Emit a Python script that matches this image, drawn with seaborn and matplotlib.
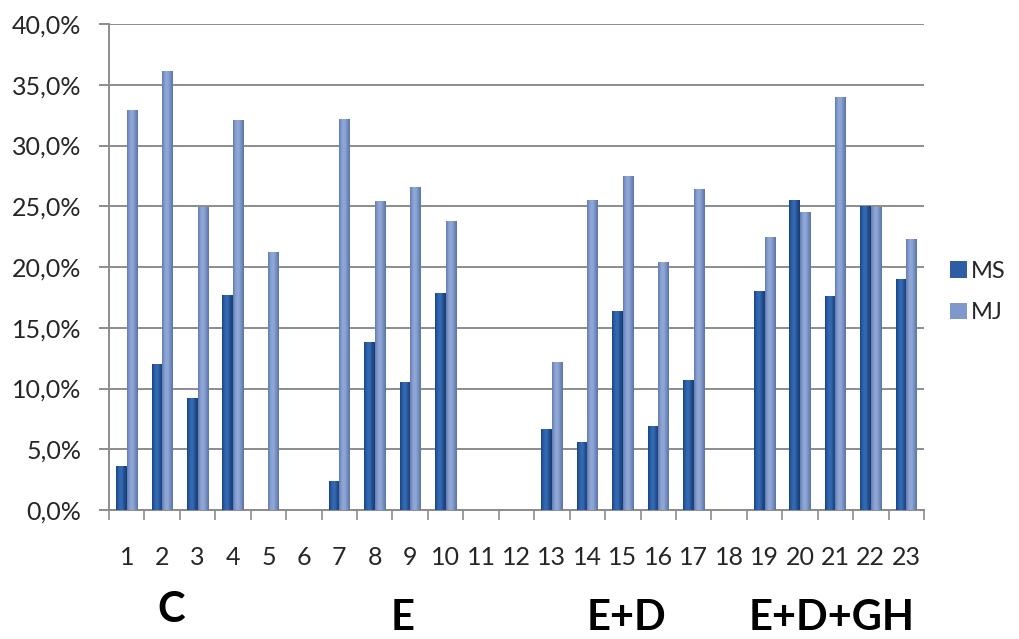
import numpy as np
import pandas as pd
import matplotlib
matplotlib.use("Agg")
import matplotlib.pyplot as plt
import seaborn as sns
from matplotlib.ticker import FuncFormatter, FixedLocator, NullFormatter
from matplotlib.colors import LinearSegmentedColormap
from matplotlib.patches import Patch
import matplotlib.transforms as mtransforms

nan = np.nan
categories = [str(i) for i in range(1, 24)]
ms_values = [3.6, 12.0, 9.2, 17.7, nan, nan, 2.4, 13.8, 10.5, 17.9, nan, nan,
             6.7, 5.6, 16.4, 6.9, 10.7, nan, 18.0, 25.5, 17.6, 25.0, 19.0]
mj_values = [32.9, 36.1, 24.9, 32.1, 21.2, nan, 32.2, 25.4, 26.6, 23.8, nan, nan,
             12.2, 25.5, 27.5, 20.4, 26.4, nan, 22.5, 24.5, 34.0, 24.9, 22.3]
series = ["MS", "MJ"]
group_labels = ["C", "E", "E+D", "E+D+GH"]
group_centers = [1.25, 7.8, 14.1, 19.9]   # in category units
yticks = [0, 5, 10, 15, 20, 25, 30, 35, 40]

df = pd.DataFrame({
    "cat": categories * 2,
    "series": [series[0]] * len(categories) + [series[1]] * len(categories),
    "value": ms_values + mj_values,
})

sns.set_theme(style="white")
plt.rcParams["font.family"] = ["Lato", "DejaVu Sans"]

W, H = 1020, 639
fig = plt.figure(figsize=(W / 100, H / 100), dpi=100)
ax = fig.add_axes([109 / W, 1 - 510 / H, (924 - 109) / W, (510 - 24) / H])

colors = {"MS": "#2D5EA5", "MJ": "#7F98CB"}
sns.barplot(data=df, x="cat", y="value", hue="series", order=categories,
            hue_order=series, palette=colors, width=0.6, gap=0, ax=ax,
            saturation=1, errorbar=None, linewidth=0, zorder=3, legend=False)

# cylinder-like gradient fill on each bar
cmaps = {
    "MS": LinearSegmentedColormap.from_list("ms", ["#1A427E", "#2C62AD", "#376DB6", "#22508D", "#183C74"]),
    "MJ": LinearSegmentedColormap.from_list("mj", ["#5F78AE", "#8AA2D2", "#93AAD8", "#7590C3", "#5C72A4"]),
}
grad = np.linspace(0, 1, 64).reshape(1, -1)
n = len(categories)
for p in list(ax.patches):
    h = p.get_height()
    if not (h == h) or h <= 0:
        continue
    fc = matplotlib.colors.to_hex(p.get_facecolor())
    key = "MS" if fc.lower() == colors["MS"].lower() else "MJ"
    x0, w = p.get_x(), p.get_width()
    im = ax.imshow(grad, extent=[x0, x0 + w, 0, h], aspect="auto",
                   cmap=cmaps[key], zorder=3.5, interpolation="bicubic")
    im.set_clip_path(p)

ax.set_xlim(-0.5, n - 0.5)
ax.set_ylim(0, 40)

# grid and spines
ax.yaxis.set_major_locator(FixedLocator(yticks))
ax.yaxis.grid(True, color="#8C8C8C", linewidth=1.4, zorder=0)
ax.set_axisbelow(True)
for s in ["top", "right"]:
    ax.spines[s].set_visible(False)
for s in ["left", "bottom"]:
    ax.spines[s].set_color("#8C8C8C")
    ax.spines[s].set_linewidth(1.4)

ax.yaxis.set_major_formatter(FuncFormatter(lambda v, _: f"{v:.1f}%".replace(".", ",")))
ax.tick_params(axis="y", which="major", length=7, width=1.4, color="#8C8C8C",
               pad=13, labelsize=18, labelcolor="#262626", left=True)

# x: labels at centers, tick marks at category boundaries
ax.set_xticks(range(n))
ax.set_xticklabels(categories)
ax.set_xticks(np.arange(-0.5, n, 1.0), minor=True)
ax.xaxis.set_minor_formatter(NullFormatter())
ax.tick_params(axis="x", which="major", length=0, pad=26, labelsize=18, labelcolor="#262626")
ax.tick_params(axis="x", which="minor", length=7, width=1.2, color="#8C8C8C", bottom=True)
ax.set_xlabel("")
ax.set_ylabel("")

# group labels below the axis
trans = mtransforms.blended_transform_factory(ax.transData, fig.transFigure)
for lab, xc in zip(group_labels, group_centers):
    yy = 1 - (610 if lab == "C" else 618) / H
    ax.text(xc, yy, lab, transform=trans, ha="center", va="center",
            fontsize=30, fontweight="bold", color="black")

# legend
handles = [Patch(facecolor=colors[s], edgecolor="none") for s in series]
fig.legend(handles, series, loc="center left", bbox_to_anchor=(950 / W, 1 - 292 / H),
           frameon=False, fontsize=17, handlelength=0.7, handleheight=0.7,
           handletextpad=0.2, labelspacing=0.85, labelcolor="#262626",
           borderpad=0, borderaxespad=0)

fig.savefig("out.png", dpi=100)
